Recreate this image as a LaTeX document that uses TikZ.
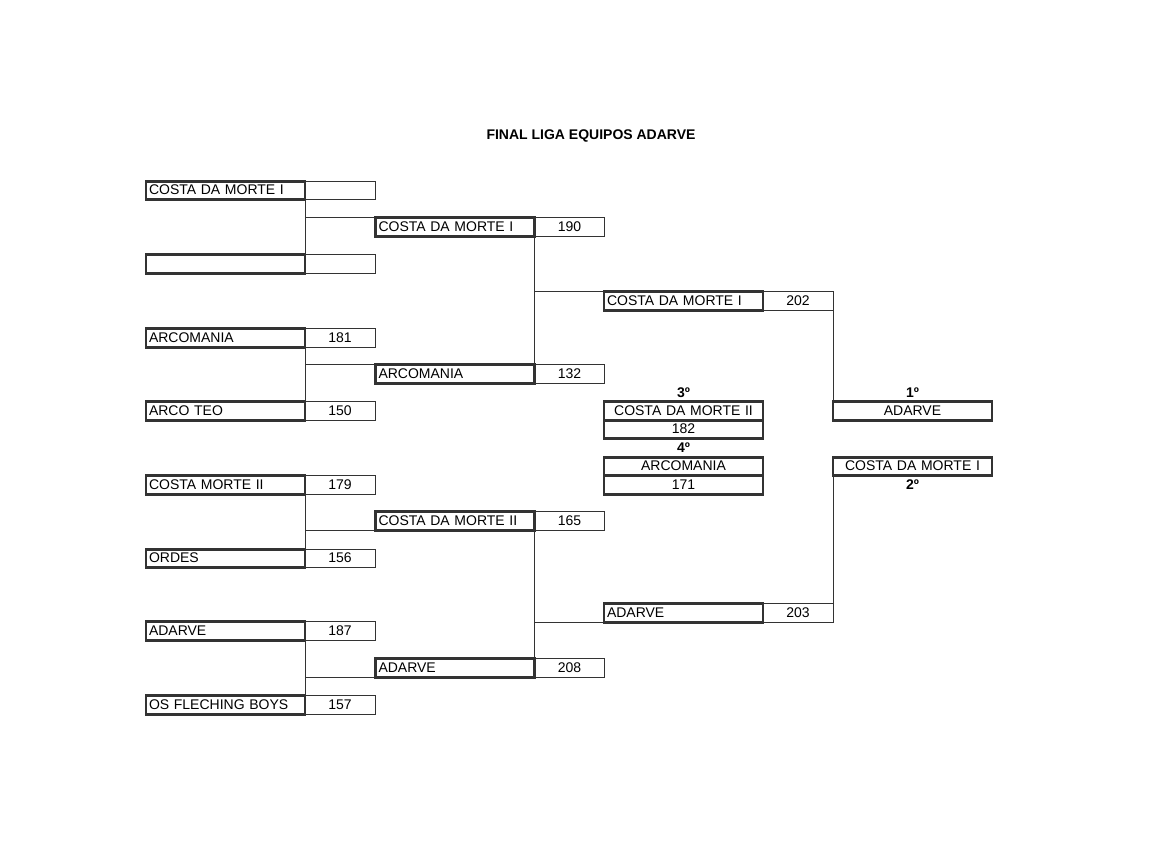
\documentclass[tikz,border=0pt]{standalone}
\usepackage{fontspec}
\setmainfont{Liberation Sans}
\usetikzlibrary{positioning}
\definecolor{ink}{HTML}{333333}

\begin{document}
\begin{tikzpicture}[x=1pt, y=1pt, node distance=0pt,
  every node/.style={font=\fontsize{14}{16}\selectfont},
  team/.style={draw=ink, line width=2.6pt, outer sep=0pt, minimum height=18.5pt,
    text width=153pt, inner xsep=3pt, inner ysep=0pt, text height=10pt, text depth=1.5pt, align=left},
  pts/.style={draw=ink, line width=1pt, outer sep=0pt, minimum height=18.5pt,
    minimum width=70pt, inner sep=0pt, text height=10pt, text depth=1.5pt},
  place/.style={team, align=center},
  rank/.style={inner sep=0pt, font=\fontsize{14}{16}\selectfont\bfseries},
  link/.style={draw=ink, line width=1pt}]
  \useasboundingbox (0,0) rectangle (1169,-850);

  \node[font=\fontsize{14}{16}\selectfont\bfseries] (title) at (591,-136) {FINAL LIGA EQUIPOS ADARVE};

  \node[team] (r1) at (225.5,-190.5) {COSTA DA MORTE I};
  \node[pts, right=of r1] (r1s) {};
  \node[team] (r2) at (225.5,-264) {};
  \node[pts, right=of r2] (r2s) {};
  \node[team] (r3) at (225.5,-338) {ARCOMANIA};
  \node[pts, right=of r3] (r3s) {181};
  \node[team] (r4) at (225.5,-411) {ARCO TEO};
  \node[pts, right=of r4] (r4s) {150};
  \node[team] (r5) at (225.5,-485) {COSTA MORTE II};
  \node[pts, right=of r5] (r5s) {179};
  \node[team] (r6) at (225.5,-558.5) {ORDES};
  \node[pts, right=of r6] (r6s) {156};
  \node[team] (r7) at (225.5,-631) {ADARVE};
  \node[pts, right=of r7] (r7s) {187};
  \node[team] (r8) at (225.5,-705) {OS FLECHING BOYS};
  \node[pts, right=of r8] (r8s) {157};

  \node[team] (q1) at (455,-227) {COSTA DA MORTE I};
  \node[pts, right=of q1] (q1s) {190};
  \node[team] (q2) at (455,-374) {ARCOMANIA};
  \node[pts, right=of q2] (q2s) {132};
  \node[team] (q3) at (455,-521) {COSTA DA MORTE II};
  \node[pts, right=of q3] (q3s) {165};
  \node[team] (q4) at (455,-668) {ADARVE};
  \node[pts, right=of q4] (q4s) {208};

  \node[team] (s1) at (683.5,-301) {COSTA DA MORTE I};
  \node[pts, right=of s1] (s1s) {202};
  \node[team] (s2) at (683.5,-613) {ADARVE};
  \node[pts, right=of s2] (s2s) {203};

  \node[place] (m1) at (683.5,-411) {COSTA DA MORTE II};
  \node[place, below=of m1] (m1s) {182};
  \node[place] (m2) at (683.5,-466.5) {ARCOMANIA};
  \node[place, below=of m2] (m2s) {171};
  \node[rank, above=4pt of m1] (third) {3º};
  \node[rank, below=4pt of m1s] (fourth) {4º};

  \node[place] (f1) at (912.5,-411) {ADARVE};
  \node[place] (f2) at (912.5,-466.5) {COSTA DA MORTE I};
  \node[rank, above=4pt of f1] (first) {1º};
  \node[rank, below=4pt of f2] (second) {2º};

  \draw[link] (r1.south east) -- (r2.north east);
  \draw[link] (q1.north west -| r1.east) -- (q1.north west);
  \draw[link] (r3.south east) -- (r4.north east);
  \draw[link] (q2.north west -| r3.east) -- (q2.north west);
  \draw[link] (r5.south east) -- (r6.north east);
  \draw[link] (q3.south west -| r5.east) -- (q3.south west);
  \draw[link] (r7.south east) -- (r8.north east);
  \draw[link] (q4.south west -| r7.east) -- (q4.south west);

  \draw[link] (q1.south east) -- (q2.north east);
  \draw[link] (s1.north west -| q1.east) -- (s1.north west);
  \draw[link] (q3.south east) -- (q4.north east);
  \draw[link] (s2.south west -| q3.east) -- (s2.south west);

  \draw[link] (s1s.north east) -- (f1.north west);
  \draw[link] (s2s.south east) -- (f2.south west);
\end{tikzpicture}
\end{document}
